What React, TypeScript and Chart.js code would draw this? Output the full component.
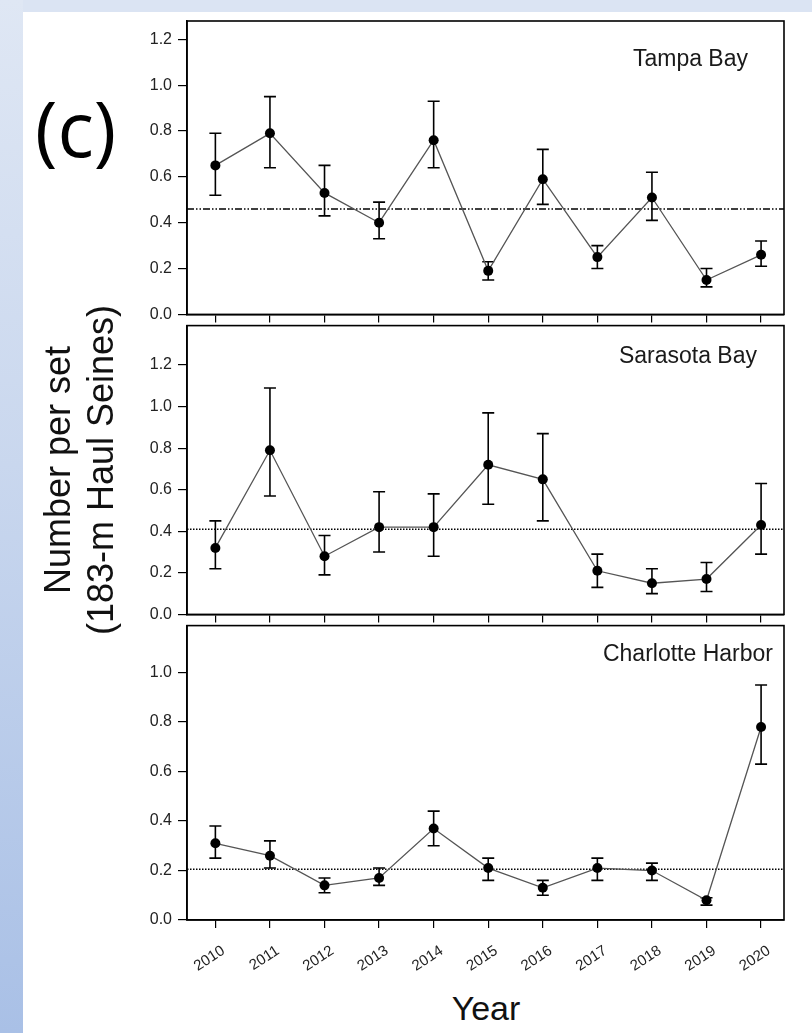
import React, { useEffect, useRef } from 'react';
import { Chart, registerables } from 'chart.js';

Chart.register(...registerables);

// ---------- data ----------
const YEARS = [2010, 2011, 2012, 2013, 2014, 2015, 2016, 2017, 2018, 2019, 2020];
const X_MIN = 2009.48;
const X_MAX = 2020.42;

const Y_TICKS_TALL = [0, 0.2, 0.4, 0.6, 0.8, 1.0, 1.2];
const Y_TICKS_SHORT = [0, 0.2, 0.4, 0.6, 0.8, 1.0];

const TAMPA_LABEL = 'Tampa Bay';
const TAMPA_MEAN = [0.65, 0.79, 0.53, 0.4, 0.76, 0.19, 0.59, 0.25, 0.51, 0.15, 0.26];
const TAMPA_UPPER = [0.79, 0.95, 0.65, 0.49, 0.93, 0.23, 0.72, 0.3, 0.62, 0.2, 0.32];
const TAMPA_LOWER = [0.52, 0.64, 0.43, 0.33, 0.64, 0.15, 0.48, 0.2, 0.41, 0.12, 0.21];
const TAMPA_AVG = 0.46;
const TAMPA_YMAX = 1.28;

const SARASOTA_LABEL = 'Sarasota Bay';
const SARASOTA_MEAN = [0.32, 0.79, 0.28, 0.42, 0.42, 0.72, 0.65, 0.21, 0.15, 0.17, 0.43];
const SARASOTA_UPPER = [0.45, 1.09, 0.38, 0.59, 0.58, 0.97, 0.87, 0.29, 0.22, 0.25, 0.63];
const SARASOTA_LOWER = [0.22, 0.57, 0.19, 0.3, 0.28, 0.53, 0.45, 0.13, 0.1, 0.11, 0.29];
const SARASOTA_AVG = 0.41;
const SARASOTA_YMAX = 1.39;

const CHARLOTTE_LABEL = 'Charlotte Harbor';
const CHARLOTTE_MEAN = [0.31, 0.26, 0.14, 0.17, 0.37, 0.21, 0.13, 0.21, 0.2, 0.08, 0.78];
const CHARLOTTE_UPPER = [0.38, 0.32, 0.17, 0.21, 0.44, 0.25, 0.16, 0.25, 0.23, 0.09, 0.95];
const CHARLOTTE_LOWER = [0.25, 0.21, 0.11, 0.14, 0.3, 0.16, 0.1, 0.16, 0.16, 0.06, 0.63];
const CHARLOTTE_AVG = 0.205;
const CHARLOTTE_YMAX = 1.19;

const Y_TITLE_1 = 'Number per set';
const Y_TITLE_2 = '(183-m Haul Seines)';
const X_TITLE = 'Year';
const PANEL_TAG = '(c)';

const FONT = "'Liberation Sans', Arial, sans-serif";

const framePlugin = {
  id: 'frame',
  afterDatasetsDraw(chart: any) {
    const { ctx, chartArea } = chart;
    const { left, top, right, bottom } = chartArea;
    ctx.save();
    ctx.strokeStyle = '#000';
    ctx.lineWidth = 1.6;
    ctx.strokeRect(left, top, right - left, bottom - top);
    ctx.restore();
  },
};

type PanelProps = {
  mean: number[];
  upper: number[];
  lower: number[];
  avg: number;
  yMax: number;
  yTicks: number[];
  dash: number[];
  showXLabels: boolean;
  top: number;
  height: number;
  padTop: number;
  xAxisHeight: number;
};

function Panel(p: PanelProps) {
  const ref = useRef<HTMLCanvasElement>(null);
  useEffect(() => {
    if (!ref.current) return;
    const errData: any[] = [];
    YEARS.forEach((yr, i) => {
      errData.push({ x: yr, y: p.lower[i] }, { x: yr, y: p.upper[i] }, { x: yr, y: null });
    });
    const capData: any[] = [];
    YEARS.forEach((yr, i) => {
      capData.push({ x: yr, y: p.upper[i] }, { x: yr, y: p.lower[i] });
    });
    const chart = new Chart(ref.current, {
      type: 'line',
      data: {
        datasets: [
          {
            data: YEARS.map((yr, i) => ({ x: yr, y: p.mean[i] })),
            borderColor: '#555',
            borderWidth: 1.3,
            pointRadius: 5,
            pointBackgroundColor: '#000',
            pointBorderColor: '#000',
            pointBorderWidth: 0,
            tension: 0,
          },
          {
            data: capData,
            showLine: false,
            pointStyle: 'line',
            pointRadius: 6,
            pointBorderWidth: 1.6,
            pointBorderColor: '#000',
            borderColor: '#000',
          },
          {
            data: errData,
            borderColor: '#000',
            borderWidth: 1.6,
            pointRadius: 0,
            spanGaps: false,
          },
          {
            data: [
              { x: X_MIN, y: p.avg },
              { x: X_MAX, y: p.avg },
            ],
            borderColor: '#000',
            borderWidth: 1.4,
            borderDash: p.dash,
            pointRadius: 0,
          },
        ] as any,
      },
      options: {
        animation: false,
        responsive: false,
        devicePixelRatio: 1,
        events: [],
        layout: { padding: { top: p.padTop, right: 28, left: 0, bottom: 0 } },
        plugins: { legend: { display: false }, tooltip: { enabled: false } },
        scales: {
          x: {
            type: 'linear',
            min: X_MIN,
            max: X_MAX,
            afterBuildTicks: (s: any) => {
              s.ticks = YEARS.map((v) => ({ value: v }));
            },
            afterFit: (s: any) => {
              s.height = p.xAxisHeight;
            },
            grid: {
              display: true,
              drawOnChartArea: false,
              drawTicks: true,
              tickLength: 8,
              color: '#000',
              lineWidth: 1.2,
            },
            border: { display: true, color: '#000', width: 1.6 },
            ticks: {
              display: p.showXLabels,
              autoSkip: false,
              minRotation: 33,
              maxRotation: 33,
              padding: 14,
              labelOffset: 8,
              color: '#222',
              font: { family: FONT, size: 15 },
              callback: (v: any) => String(v),
            },
          },
          y: {
            type: 'linear',
            min: 0,
            max: p.yMax,
            afterBuildTicks: (s: any) => {
              s.ticks = p.yTicks.map((v) => ({ value: v }));
            },
            afterFit: (s: any) => {
              s.width = 187;
            },
            grid: {
              display: true,
              drawOnChartArea: false,
              drawTicks: true,
              tickLength: 9,
              color: '#000',
              lineWidth: 1.2,
            },
            border: { display: true, color: '#000', width: 1.6 },
            ticks: {
              padding: 6,
              color: '#222',
              font: { family: FONT, size: 16 },
              callback: (v: any) => Number(v).toFixed(1),
            },
          },
        },
      } as any,
      plugins: [framePlugin],
    });
    return () => chart.destroy();
  }, []);
  return (
    <canvas
      ref={ref}
      width={812}
      height={p.height}
      style={{ position: 'absolute', left: 0, top: p.top, width: 812, height: p.height }}
    />
  );
}

const labelStyle = (right: number, top: number): React.CSSProperties => ({
  position: 'absolute',
  left: right - 300,
  width: 300,
  top,
  textAlign: 'right',
  fontFamily: FONT,
  fontSize: 23,
  lineHeight: '23px',
  color: '#1a1a1a',
  whiteSpace: 'nowrap',
});

export default function App() {
  return (
    <div
      style={{
        position: 'absolute',
        left: 0,
        top: 0,
        width: 812,
        height: 1033,
        overflow: 'hidden',
        background: '#fff',
      }}
    >
      <div
        style={{
          position: 'absolute',
          left: 0,
          top: 0,
          width: 812,
          height: 12,
          background: '#dbe4f3',
        }}
      />
      <div
        style={{
          position: 'absolute',
          left: 0,
          top: 0,
          width: 23,
          height: 1033,
          background: 'linear-gradient(to bottom, #dfe7f4 0%, #c9d7ee 45%, #a9c0e6 100%)',
        }}
      />
      <Panel
        mean={TAMPA_MEAN}
        upper={TAMPA_UPPER}
        lower={TAMPA_LOWER}
        avg={TAMPA_AVG}
        yMax={TAMPA_YMAX}
        yTicks={Y_TICKS_TALL}
        dash={[7, 2, 1.5, 2, 1.5, 2]}
        showXLabels={false}
        top={0}
        height={330}
        padTop={21}
        xAxisHeight={10}
      />
      <Panel
        mean={SARASOTA_MEAN}
        upper={SARASOTA_UPPER}
        lower={SARASOTA_LOWER}
        avg={SARASOTA_AVG}
        yMax={SARASOTA_YMAX}
        yTicks={Y_TICKS_TALL}
        dash={[1.5, 1.5]}
        showXLabels={false}
        top={310}
        height={320}
        padTop={10}
        xAxisHeight={10}
      />
      <Panel
        mean={CHARLOTTE_MEAN}
        upper={CHARLOTTE_UPPER}
        lower={CHARLOTTE_LOWER}
        avg={CHARLOTTE_AVG}
        yMax={CHARLOTTE_YMAX}
        yTicks={Y_TICKS_SHORT}
        dash={[1.5, 1.5]}
        showXLabels={true}
        top={610}
        height={370}
        padTop={10}
        xAxisHeight={60}
      />
      <div style={labelStyle(748, 47)}>{TAMPA_LABEL}</div>
      <div style={labelStyle(757, 344)}>{SARASOTA_LABEL}</div>
      <div style={labelStyle(773, 642)}>{CHARLOTTE_LABEL}</div>
      <div
        style={{
          position: 'absolute',
          left: 35,
          top: 90,
          fontFamily: "'Open Sans', sans-serif",
          fontSize: 76,
          lineHeight: '76px',
          color: '#000',
          whiteSpace: 'nowrap',
        }}
      >
        {PANEL_TAG}
      </div>
      <div
        style={{
          position: 'absolute',
          left: 79 - 220,
          top: 470 - 43,
          width: 440,
          height: 86,
          transform: 'rotate(-90deg)',
          transformOrigin: '220px 43px',
          textAlign: 'center',
          fontFamily: FONT,
          fontSize: 36,
          lineHeight: '43px',
          color: '#111',
          whiteSpace: 'nowrap',
        }}
      >
        <div>{Y_TITLE_1}</div>
        <div>{Y_TITLE_2}</div>
      </div>
      <div
        style={{
          position: 'absolute',
          left: 386,
          width: 200,
          top: 991,
          textAlign: 'center',
          fontFamily: FONT,
          fontSize: 34,
          lineHeight: '34px',
          color: '#111',
        }}
      >
        {X_TITLE}
      </div>
    </div>
  );
}
